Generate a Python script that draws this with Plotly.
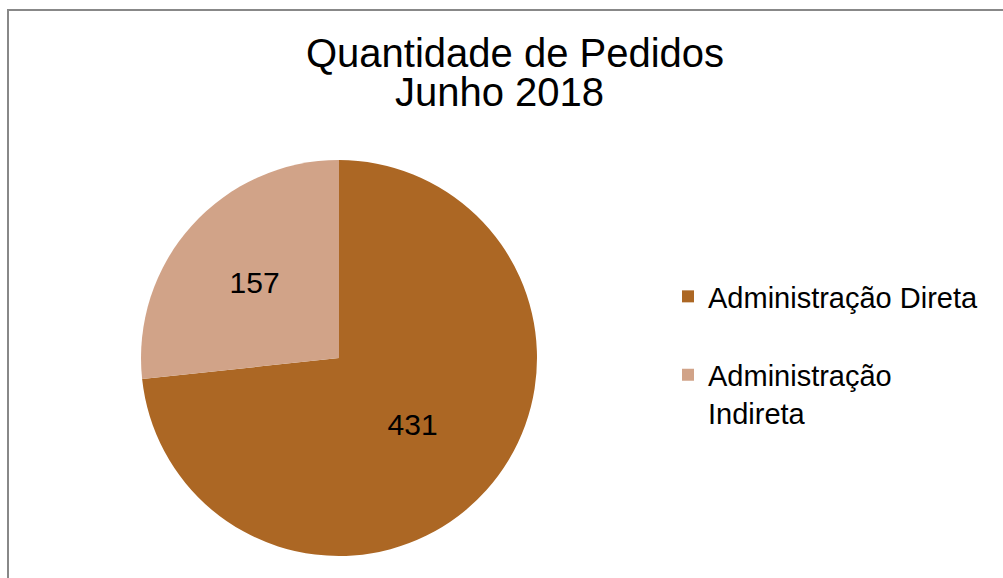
import plotly.graph_objects as go

W, H = 1003, 578

categories = ["Administração Direta", "Administração Indireta"]
values = [431, 157]
legend_labels = ["Administração Direta<br>\u00a0", "Administração<br>Indireta"]
colors = ["#AC6724", "#D1A388"]
title_lines = ["Quantidade de Pedidos", "Junho 2018"]

FONT = "Liberation Sans, Arial, sans-serif"

def px(x):
    return x / W

def py(y):
    return 1 - y / H

fig = go.Figure()
fig.add_trace(go.Pie(
    labels=legend_labels,
    values=values,
    customdata=categories,
    hovertemplate="%{customdata}: %{value}<extra></extra>",
    marker=dict(colors=colors, line=dict(width=0)),
    sort=False,
    direction="clockwise",
    rotation=0,
    textinfo="value",
    textposition="inside",
    insidetextorientation="horizontal",
    textfont=dict(family=FONT, size=30, color="black"),
    domain=dict(x=[px(141), px(537)], y=[py(556), py(160)]),
))

fig.add_annotation(text=title_lines[0], x=px(515), y=py(53), xref="paper", yref="paper",
                   showarrow=False, xanchor="center", yanchor="middle",
                   font=dict(family=FONT, size=40, color="black"))
fig.add_annotation(text=title_lines[1], x=px(499), y=py(92), xref="paper", yref="paper",
                   showarrow=False, xanchor="center", yanchor="middle",
                   font=dict(family=FONT, size=40, color="black"))

fig.add_shape(type="rect", xref="paper", yref="paper",
              x0=px(8), x1=1.1, y0=-0.1, y1=py(10),
              line=dict(color="#888888", width=2), fillcolor="rgba(0,0,0,0)", layer="above")

fig.update_layout(
    width=W, height=H,
    margin=dict(l=0, r=0, t=0, b=0),
    paper_bgcolor="white",
    plot_bgcolor="white",
    showlegend=True,
    legend=dict(
        x=px(668), y=py(271), xanchor="left", yanchor="top",
        font=dict(family=FONT, size=29, color="black"),
        valign="top",
        bgcolor="rgba(0,0,0,0)",
    ),
)

fig.write_html("out.html")
